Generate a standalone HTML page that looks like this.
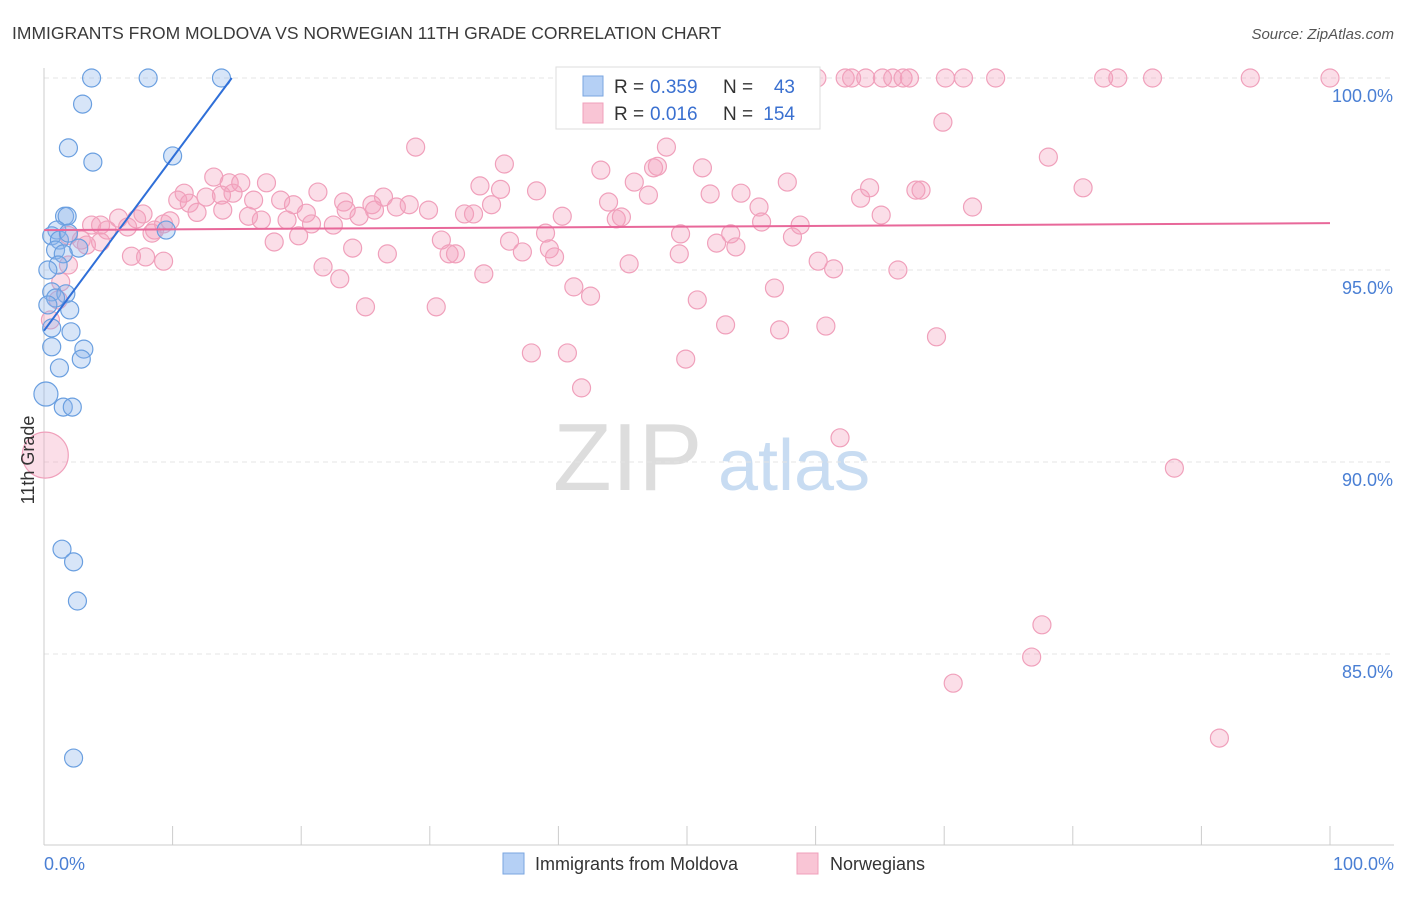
<!DOCTYPE html>
<html><head><meta charset="utf-8"><style>
body{margin:0;background:#fff;font-family:"Liberation Sans",sans-serif;}
svg text{font-family:"Liberation Sans",sans-serif;}
</style></head><body>
<svg id="chart" width="1406" height="892" xmlns="http://www.w3.org/2000/svg">
<text x="12" y="39" font-size="17.5" fill="#3a3a3a">IMMIGRANTS FROM MOLDOVA VS NORWEGIAN 11TH GRADE CORRELATION CHART</text>
<text x="1394" y="39" font-size="15" fill="#555" text-anchor="end" font-style="italic">Source: ZipAtlas.com</text>
<text x="553" y="490" font-size="96" fill="#ddd" font-family="Liberation Serif">ZIP</text>
<text x="718" y="490" font-size="72" fill="#c8dcf2">atlas</text>
<g id="grid"></g><g id="axes"></g><g id="pink"></g><g id="blue"></g><g id="trend"></g>
<text x="34" y="460" font-size="18" fill="#333" text-anchor="middle" transform="rotate(-90 34 460)">11th Grade</text>
<text x="44" y="870" font-size="18" fill="#4a7fd4">0.0%</text>
<text x="1394" y="870" font-size="18" fill="#4a7fd4" text-anchor="end">100.0%</text>
<g>
<rect x="556" y="67" width="264" height="62" fill="#fff" stroke="#ddd"/>
<rect x="583" y="76" width="20" height="20" fill="#b5d0f5" stroke="#7aa6e0"/>
<rect x="583" y="103" width="20" height="20" fill="#f9c5d5" stroke="#f0a0bb"/>
<text x="614" y="93" font-size="19" fill="#333">R = </text><text x="650" y="93" font-size="19" fill="#3a70d0">0.359</text>
<text x="723" y="93" font-size="19" fill="#333">N =</text><text x="795" y="93" font-size="19" fill="#3a70d0" text-anchor="end">43</text>
<text x="614" y="120" font-size="19" fill="#333">R = </text><text x="650" y="120" font-size="19" fill="#3a70d0">0.016</text>
<text x="723" y="120" font-size="19" fill="#333">N =</text><text x="795" y="120" font-size="19" fill="#3a70d0" text-anchor="end">154</text>
</g>
<g>
<rect x="503" y="853" width="21" height="21" fill="#b5d0f5" stroke="#7aa6e0"/>
<text x="535" y="870" font-size="18" fill="#333">Immigrants from Moldova</text>
<rect x="797" y="853" width="21" height="21" fill="#f9c5d5" stroke="#f0a0bb"/>
<text x="830" y="870" font-size="18" fill="#333">Norwegians</text>
</g>
</svg>
<script>
const yTicks=[100,95,90,85];
const yTickLabels=["100.0%","95.0%","90.0%","85.0%"];
const xTicks=[0,10,20,30,40,50,60,70,80,90,100];
const blueX=[3.7,8.1,13.8,3.0,1.9,3.8,10.0,1.6,1.8,1.0,0.6,1.2,1.9,9.5,0.9,2.7,1.5,1.1,0.3,0.6,1.7,0.9,2.0,0.3,0.6,2.1,3.1,0.6,2.9,1.2,0.15,1.5,2.2,1.4,2.3,2.6,2.3];
const blueY=[100,100,100,99.32,98.18,97.81,97.97,96.4,96.4,96.04,95.89,95.78,95.96,96.04,95.52,95.57,95.42,95.13,95.0,94.43,94.38,94.27,93.96,94.09,93.49,93.39,92.94,93.0,92.68,92.45,91.77,91.43,91.43,87.73,87.4,86.38,82.29];
const pinkX=[60.1,62.3,62.8,63.9,65.2,66.0,66.8,67.3,70.1,71.5,74.0,82.4,83.5,86.2,93.8,100,54.5,69.9,78.1,80.8,28.9,35.8,43.3,47.4,47.7,48.4,51.2,13.2,14.4,15.3,17.3,10.9,12.6,10.4,11.3,13.8,14.7,11.9,13.9,16.3,18.4,19.4,21.3,23.3,26.4,28.4,29.9,33.9,35.5,38.3,45.9,47.0,51.8,54.2,57.8,63.5,64.2,67.8,68.2,72.2,65.1,55.6,43.9,44.5,44.9,40.3,32.7,33.4,34.8,25.5,25.7,27.4,24.5,23.5,20.4,20.8,22.5,18.9,16.9,15.9,7.2,7.7,5.8,4.4,3.7,4.9,6.5,9.3,8.4,8.6,9.8,4.4,2.9,3.3,1.9,1.9,1.3,1.1,0.5,6.8,7.9,9.3,17.9,19.8,24.0,26.7,30.9,31.5,32.0,36.2,37.2,39.0,39.3,39.7,45.5,49.4,52.3,53.4,53.8,55.8,58.2,58.8,60.2,61.4,66.4,49.5,21.7,23.0,34.2,41.2,42.5,50.8,56.8,53.0,57.2,60.8,69.4,25.0,30.5,37.9,40.7,49.9,41.8,61.9,87.9,77.6,76.8,70.7,91.4];
const pinkY=[100,100,100,100,100,100,100,100,100,100,100,100,100,100,100,100,100,98.85,97.94,97.14,98.2,97.76,97.6,97.66,97.7,98.2,97.66,97.42,97.27,97.27,97.27,97.0,96.9,96.82,96.74,96.95,97.0,96.5,96.56,96.82,96.82,96.7,97.03,96.77,96.9,96.7,96.56,97.19,97.1,97.06,97.29,96.95,96.98,97.0,97.29,96.87,97.14,97.08,97.08,96.64,96.43,96.64,96.77,96.33,96.38,96.4,96.46,96.46,96.7,96.7,96.56,96.64,96.4,96.56,96.48,96.2,96.17,96.3,96.3,96.4,96.33,96.46,96.35,96.17,96.17,96.04,96.12,96.2,95.96,96.04,96.28,95.73,95.78,95.65,95.9,95.13,94.69,94.22,93.7,95.36,95.34,95.23,95.73,95.89,95.57,95.42,95.78,95.42,95.42,95.75,95.47,95.96,95.55,95.34,95.16,95.42,95.7,95.94,95.6,96.25,95.86,96.17,95.23,95.03,95.0,95.94,95.08,94.77,94.9,94.56,94.32,94.22,94.53,93.57,93.44,93.54,93.26,94.04,94.04,92.84,92.84,92.68,91.93,90.63,89.84,85.76,84.92,84.24,82.81];
const bigPinkX=[0.1], bigPinkY=[90.18];
const blueTrend=[[0,93.42],[14.6,100]];
const pinkTrend=[[0,96.04],[100,96.22]];
const X=v=>44+v*12.86, Y=v=>78+(100-v)*38.4;
const NS="http://www.w3.org/2000/svg";
function mk(parent,tag,attrs){const e=document.createElementNS(NS,tag);for(const k in attrs)e.setAttribute(k,attrs[k]);document.getElementById(parent).appendChild(e);return e;}
yTicks.forEach((t,i)=>{
 const l=mk('grid','line',{x1:44,x2:1394,y1:Y(t),y2:Y(t),stroke:'#e4e4e4','stroke-dasharray':'5,4'});
 
 
 const tx=mk('grid','text',{x:1393,y:Y(t)+24,'font-size':18,fill:'#4a7fd4','text-anchor':'end'});
 tx.textContent=yTickLabels[i];
 
 
});
const ax=mk('axes','line',{x1:44,x2:44,y1:68,y2:845,stroke:'#ccc'});


const bx=mk('axes','line',{x1:44,x2:1394,y1:845,y2:845,stroke:'#ccc'});


xTicks.forEach(t=>{
 const l=mk('axes','line',{x1:X(t),x2:X(t),y1:826,y2:845,stroke:'#ccc'});
 
 
});
pinkX.forEach((v,i)=>{
 const c=mk('pink','circle',{cx:X(v),cy:Y(pinkY[i]),r:9,fill:'rgba(244,160,190,0.35)',stroke:'#f0a0bb','stroke-width':1.2});
 
 
});
bigPinkX.forEach((v,i)=>{
 const c=mk('pink','circle',{cx:X(v),cy:Y(bigPinkY[i]),r:23,fill:'rgba(244,160,190,0.35)',stroke:'#f0a0bb','stroke-width':1.2});
 
 
});
blueX.forEach((v,i)=>{
 const c=mk('blue','circle',{cx:X(v),cy:Y(blueY[i]),r:(i==30?12:9),fill:'rgba(140,180,235,0.35)',stroke:'#6a9fe0','stroke-width':1.2});
 
 
});
const tb=mk('trend','line',{x1:X(blueTrend[0][0]),y1:Y(blueTrend[0][1]),x2:X(blueTrend[1][0]),y2:Y(blueTrend[1][1]),stroke:'#2f6fd8','stroke-width':2});


const tp=mk('trend','line',{x1:X(pinkTrend[0][0]),y1:Y(pinkTrend[0][1]),x2:X(pinkTrend[1][0]),y2:Y(pinkTrend[1][1]),stroke:'#e8689a','stroke-width':2});


</script>
</body></html>
